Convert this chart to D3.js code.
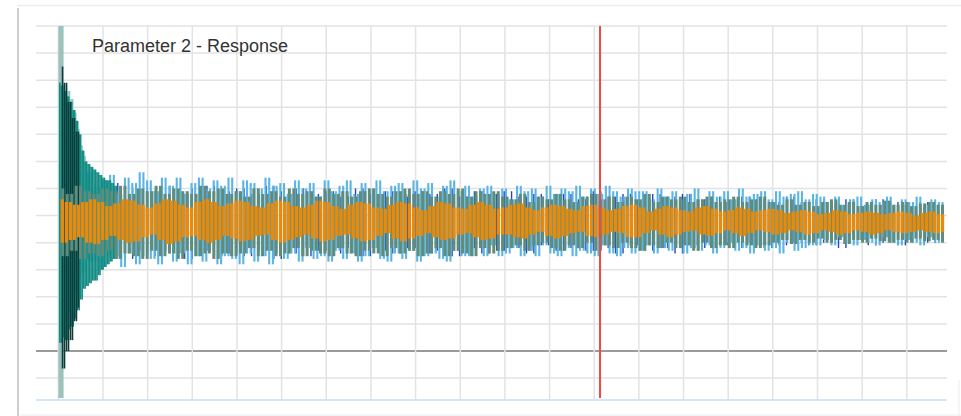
<!DOCTYPE html>
<html>
<head>
<meta charset="utf-8">
<script src="https://cdn.jsdelivr.net/npm/d3@7"></script>
<style>
  html, body { margin: 0; padding: 0; background: #fff; }
  svg { display: block; }
</style>
</head>
<body>
<svg id="chart" width="961" height="416"></svg>
<script>
// time axis: one gridline per second, red marker at the cursor
const xTicks = d3.range(0, 20);
const yTicks = d3.range(-1, 13);
const cursorTime = 12.13;
const chartTitle = "Parameter 2 - Response";

// first sample, clipped at both ends of the plot
const spikeValues = [14, -3, 14, -3, 14, -3];

// start-up transient
const tealLightValues = [9.8, 2.0, 9.6, 1.4, 9.3, 1.9, 8.8, 2.2, 8.2, 2.6, 7.6, 2.8, 7.2, 3.0];
const tealValues = [9.9, 0.3, 9.8, 0.5, 9.6, 0.4, 9.4, 0.8, 9.2, 0.9, 8.9, 1.2, 8.5, 1.5, 8.0, 1.9,
  7.4, 2.3, 7.0, 2.4, 6.9, 2.5, 6.8, 2.6, 6.7, 2.6, 6.6, 2.8, 6.5, 3.0, 6.4, 3.1, 6.3, 3.2, 6.3, 3.3, 6.2, 3.4, 6.1, 3.5];
const tealDarkValues = [10.5, -0.65, 9.9, 0.0, 9.2, 0.4, 8.6, 1.1, 8.1, 1.6];

const lightBlueValues = [
  6.5,3.2,6.1,3.6,6.4,3.1,5.9,3.5,6.6,3.3,6.0,3.0,6.3,3.7,6.5,3.4,5.8,3.1,6.4,3.6,6.2,3.2,6.6,3.5,
  6.3,3.4,5.9,3.2,6.4,3.7,6.1,3.3,6.4,3.6,5.8,3.2,6.2,3.5,6.4,3.3,6.0,3.7,6.3,3.2,6.1,3.5,6.4,3.4,5.9,3.2,6.3,3.6,6.2,3.3,6.0,3.5,6.4,3.2,6.1,3.6,
  6.2,3.4,5.8,3.6,6.3,3.3,6.0,3.8,6.2,3.4,5.7,3.5,6.3,3.3,5.9,3.7,6.1,3.4,6.3,3.6,5.8,3.3,6.2,3.5,6.0,3.8,6.3,3.4,5.9,3.3,6.1,3.6,6.2,3.4,5.8,3.7,6.3,3.3,6.0,3.5,6.2,3.6,5.7,3.4,6.1,3.3,6.3,3.7,5.9,3.5,
  6.1,3.5,5.7,3.8,6.0,3.5,6.1,3.9,5.8,3.5,6.0,3.6,5.6,3.8,6.1,3.5,5.9,3.7,6.0,3.5,5.7,3.9,6.1,3.6,5.8,3.5,6.0,3.8,5.9,3.5,6.1,3.7,5.7,3.6,6.0,3.5,5.8,3.9,6.1,3.6,5.9,3.5,5.7,3.8,6.0,3.6,5.9,
  3.7,5.9,3.9,5.6,3.6,6.0,3.8,5.7,3.7,5.9,4.0,5.6,3.6,5.8,3.8,6.0,3.7,5.6,3.9,5.9,3.6,5.7,3.8,5.9,4.0,5.6,3.7,6.0,3.8,5.7,3.6,5.8,3.9,5.9,3.7,5.6,3.8,5.9,3.6,5.7,4.0,5.8,3.7,5.9,3.8,5.6,3.9,5.8,
  3.9,5.7,4.1,5.5,3.9,5.7,4.2,5.4,4.0,5.6,3.9,5.7,4.1,5.4,4.0,5.6,3.9,5.5,4.2,5.7,4.0,5.4,3.9,5.6,4.1,5.5,4.0,5.7,3.9,5.4,4.2,5.6,4.0,5.5,4.1
];

const darkBlueValues = [
  6.2,3.5,6.0,3.4,6.1,3.6,5.9,3.5,6.2,3.4,6.0,3.7,
  5.9,3.5,6.1,3.6,5.8,3.4,6.0,3.7,6.1,3.5,5.9,3.6,6.0,3.5,5.8,3.7,6.1,3.4,5.9,3.6,6.0,3.5,5.8,3.7,
  5.9,3.6,5.7,3.8,6.0,3.5,5.8,3.7,5.9,3.6,5.7,3.8,5.9,3.6,5.8,3.7,6.0,3.5,5.7,3.8,5.9,3.6,5.8,3.7,5.9,
  3.8,5.7,3.6,5.8,3.9,5.6,3.7,5.8,3.8,5.6,3.7,5.9,3.8,5.7,3.6,5.8,3.9,5.6,3.7,5.8,3.8,5.7,3.6,5.8,3.9,
  5.6,3.8,5.7,3.9,5.5,3.8,5.7,4.0,5.6,3.8,5.5,3.9,5.7,4.0,5.5,3.9,5.6,4.0,5.5,3.8,5.6,4.1,5.4,3.9,5.6,4.0,5.5,3.9,5.4,4.1,5.5,4.0,5.4,4.1
];

const grayGreenValues = [
  6.0,3.5,5.8,3.7,6.1,3.4,5.9,3.6,5.8,3.5,6.0,3.7,5.9,3.4,6.1,3.6,5.8,3.5,6.0,3.4,5.9,3.7,6.1,3.5,5.8,3.6,6.0,3.4,5.9,3.7,5.8,3.5,6.1,3.6,5.9,3.4,6.0,3.6,5.8,3.5,
  5.9,3.6,5.7,3.8,6.0,3.5,5.8,3.7,5.9,3.5,5.7,3.6,6.0,3.8,5.8,3.5,5.9,3.7,5.7,3.6,6.0,3.5,5.8,3.8,5.9,3.6,5.7,3.5,5.9,3.7,6.0,3.6,5.8,3.5,5.7,3.8,5.9,3.6,6.0,3.7,5.8,3.5,5.9,3.6,5.7,3.8,5.9,3.5,5.8,3.7,6.0,3.6,5.7,3.5,5.9,3.8,5.8,3.6,5.9,3.7,
  5.7,3.8,5.6,3.9,5.8,3.7,5.5,3.9,5.7,4.0,5.6,3.8,5.8,3.7,5.6,3.9,5.5,3.8,5.7,4.0,5.8,3.7,5.6,3.9,5.7,3.8,5.5,4.0,5.7,3.8,5.6,3.7,5.8,3.9,5.5,3.8,5.7,4.0,5.6,3.8,5.7,3.9,5.5,3.7,5.6,4.0,5.7,3.8,5.5,3.9,5.6,3.8,5.7,4.0,5.5,3.9,5.6,3.8,5.7,3.9,
  5.5,4.0,5.4,4.1,5.6,3.95,5.4,4.1,5.5,4.0,5.35,4.15,5.5,4.0,5.6,4.1,5.4,3.95,5.5,4.1,5.35,4.0,5.5,4.15,5.4,4.05,5.55,4.0,5.4,4.1,5.5,4.0,5.35,4.15,5.45,4.05,5.5,4.1,5.4,4.0
];

const orangeValues = [
  5.6,4.0,5.5,4.1,5.4,4.2,5.5,4.0,5.6,3.95,5.5,4.1,5.35,4.25,5.45,4.1,5.6,4.0,5.55,4.05,5.4,4.2,5.3,4.3,5.45,4.1,5.6,3.95,5.55,4.05,5.4,4.2,5.3,4.25,5.5,4.1,5.6,4.0,5.5,4.1,5.35,4.25,5.45,4.15,
  5.55,4.05,5.5,4.1,5.35,4.25,5.3,4.3,5.45,4.1,5.55,4.0,5.5,4.1,5.35,4.2,5.3,4.3,5.4,4.15,5.55,4.05,5.5,4.1,5.35,4.25,5.25,4.3,5.4,4.15,5.5,4.05,5.45,4.1,5.3,4.25,5.25,4.35,5.4,4.15,5.5,4.05,5.45,4.15,5.3,4.25,5.2,4.35,5.35,4.2,5.5,4.1,5.45,4.15,5.3,4.3,5.25,4.35,5.4,4.2,5.5,4.1,5.4,4.15,5.25,4.3,
  5.3,4.3,5.4,4.2,5.45,4.15,5.3,4.3,5.2,4.4,5.3,4.25,5.4,4.15,5.35,4.25,5.25,4.35,5.2,4.4,5.35,4.25,5.4,4.2,5.3,4.3,5.2,4.4,5.25,4.35,5.35,4.2,5.4,4.2,5.3,4.35,5.15,4.45,5.25,4.3,5.35,4.2,5.3,4.3,5.2,4.4,5.15,4.45,5.3,4.3,5.35,4.25,5.25,4.35,5.15,4.45,5.2,4.35,5.3,4.25,5.25,4.35,5.15,4.45,5.2,4.4,
  5.25,4.3,5.2,4.35,5.1,4.45,5.15,4.4,5.2,4.3,5.15,4.35,5.05,4.45,5.1,4.4,5.2,4.3,5.15,4.35,5.05,4.45,5.1,4.4,5.15,4.3,5.1,4.35,5.05,4.45,5.1,4.4,5.15,4.35,5.1,4.4,5.0,4.45,5.1,4.4,5.15,4.35,5.05,4.4
];

// drawing order, back to front
const traces = [
  { values: spikeValues,     t0: 0, t1: 0.1,  color: '#9cc2bc', width: 1.6 },
  { values: darkBlueValues,  t0: 0, t1: 19.8, color: '#2547b8', width: 1.4 },
  { values: lightBlueValues, t0: 0, t1: 19.8, color: '#5ab4e5', width: 2.1 },
  { values: tealLightValues, t0: 0.15, t1: 0.6, color: '#86c9c1', width: 1.4 },
  { values: tealValues,      t0: 0, t1: 1.3,  color: '#138c84', width: 1.6 },
  { values: tealDarkValues,  t0: 0.05, t1: 0.45, color: '#0d3b38', width: 1.6 },
  { values: grayGreenValues, t0: 0, t1: 19.8, color: '#608c7c', width: 3 },
  { values: orangeValues,    t0: 0, t1: 19.8, color: '#e98a0b', width: 3.2 }
];

const svg = d3.select('#chart');
const plot = { left: 36, right: 947, top: 26, bottom: 400 };

const x = d3.scaleLinear().domain([-0.5, 19.9]).range([plot.left, plot.right]);
const y = d3.scaleLinear().domain([-1.81, 12]).range([plot.bottom, plot.top]);

// panel frame with its soft shadow on the left
svg.append('line').attr('x1', 17).attr('x2', 961).attr('y1', 5.5).attr('y2', 5.5)
  .attr('stroke', '#ececec').attr('stroke-width', 1.5);
svg.append('line').attr('x1', 18).attr('x2', 18).attr('y1', 8).attr('y2', 416)
  .attr('stroke', '#cfcfcf').attr('stroke-width', 2);
svg.append('line').attr('x1', 20).attr('x2', 961).attr('y1', 415).attr('y2', 415)
  .attr('stroke', '#ececec').attr('stroke-width', 1);
svg.append('line').attr('x1', 959).attr('x2', 959).attr('y1', 380).attr('y2', 416)
  .attr('stroke', '#ececec').attr('stroke-width', 1);

// grid
const grid = svg.append('g');
grid.selectAll('line.h')
  .data(yTicks)
  .join('line')
  .attr('class', 'h')
  .attr('x1', plot.left).attr('x2', plot.right)
  .attr('y1', d => y(d)).attr('y2', d => y(d))
  .attr('stroke', d => d === 0 ? '#9a9a9a' : '#e3e3e3')
  .attr('stroke-width', d => d === 0 ? 1.8 : 1.5);

grid.selectAll('line.v')
  .data(xTicks)
  .join('line')
  .attr('class', 'v')
  .attr('x1', d => x(d)).attr('x2', d => x(d))
  .attr('y1', plot.top).attr('y2', plot.bottom)
  .attr('stroke', '#e3e3e3')
  .attr('stroke-width', 1.5);

// bottom axis line
svg.append('line')
  .attr('x1', plot.left).attr('x2', plot.right)
  .attr('y1', plot.bottom).attr('y2', plot.bottom)
  .attr('stroke', '#c9dcff').attr('stroke-width', 1.5);

svg.append('clipPath').attr('id', 'plotClip')
  .append('rect')
  .attr('x', plot.left).attr('y', plot.top)
  .attr('width', plot.right - plot.left).attr('height', plot.bottom - 2 - plot.top);

const traceG = svg.append('g').attr('clip-path', 'url(#plotClip)');

// dense signals drawn like a scope: each sample is a vertical stroke from
// the previous value to its own value (min/max column rendering)
traces.forEach(tr => {
  const n = tr.values.length;
  const step = (tr.t1 - tr.t0) / (n - 1);
  const segs = d3.pairs(tr.values).map((p, i) => ({ t: tr.t0 + (i + 1) * step, from: p[0], to: p[1] }));
  traceG.append('g')
    .selectAll('line')
    .data(segs)
    .join('line')
    .attr('x1', d => x(d.t)).attr('x2', d => x(d.t))
    .attr('y1', d => y(d.from)).attr('y2', d => y(d.to))
    .attr('stroke', tr.color)
    .attr('stroke-width', tr.width);
});

// cursor
svg.append('line')
  .attr('x1', x(cursorTime)).attr('x2', x(cursorTime))
  .attr('y1', plot.top).attr('y2', plot.bottom - 2)
  .attr('stroke', '#ee4a45').attr('stroke-width', 2);

svg.append('text')
  .attr('x', 92).attr('y', 52)
  .attr('font-family', '"Liberation Sans", Arial, sans-serif')
  .attr('font-size', 18)
  .attr('fill', '#333')
  .text(chartTitle);
</script>
</body>
</html>
